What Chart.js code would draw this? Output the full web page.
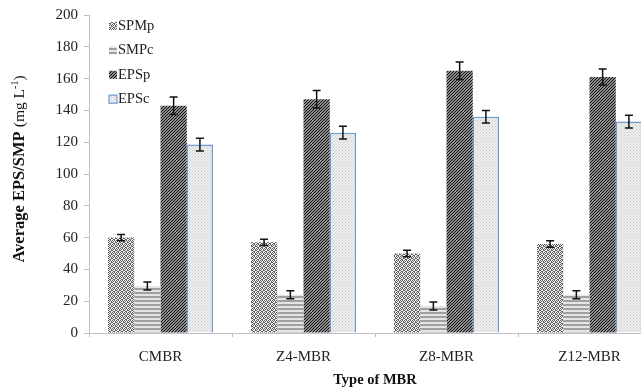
<!DOCTYPE html>
<html>
<head>
<meta charset="utf-8">
<script src="https://cdn.jsdelivr.net/npm/chart.js@4.4.0/dist/chart.umd.min.js"></script>
<style>
  html, body { margin: 0; padding: 0; background: #fff; overflow: hidden; }
  #wrap { width: 670px; height: 392px; }
</style>
</head>
<body>
<div id="wrap"><canvas id="mbrChart" width="670" height="392"></canvas></div>
<script>
const categories = ['CMBR', 'Z4-MBR', 'Z8-MBR', 'Z12-MBR'];
const seriesNames = ['SPMp', 'SMPc', 'EPSp', 'EPSc'];
const spmp = [60, 57, 50, 56];
const smpc = [29.5, 24, 17, 24];
const epsp = [143, 147, 165, 161];
const epsc = [118.5, 126, 136, 133];
const spmpErr = [2, 2, 2, 2];
const smpcErr = [2.5, 2.5, 2.5, 2.5];
const epspErr = [5.5, 5.5, 5.5, 5];
const epscErr = [4, 4, 4, 4];
const yTicks = [0, 20, 40, 60, 80, 100, 120, 140, 160, 180, 200];

function makeTile(w, h, draw) {
  const c = document.createElement('canvas');
  c.width = w; c.height = h;
  const g = c.getContext('2d');
  draw(g, w, h);
  return c.getContext('2d').createPattern(c, 'repeat');
}

// zigzag (wave) pattern, pixel based
const zigzag = makeTile(4, 4, (g, w, h) => {
  g.fillStyle = '#f4f4f4'; g.fillRect(0, 0, w, h);
  g.fillStyle = '#5c5c5c';
  [[0, 0], [1, 1], [2, 0], [3, 1], [0, 2], [2, 3], [1, 3], [3, 2]].forEach(p => g.fillRect(p[0], p[1], 1, 1));
});
// horizontal stripes
const stripes = makeTile(4, 4, (g, w, h) => {
  g.fillStyle = '#e4e4e4'; g.fillRect(0, 0, w, h);
  g.fillStyle = '#a0a0a0'; g.fillRect(0, 0, w, 2);
});
// fine diagonal hatch
const hatch = makeTile(3, 3, (g, w, h) => {
  g.fillStyle = '#8c8c8c'; g.fillRect(0, 0, w, h);
  g.fillStyle = '#101010';
  for (let i = 0; i < 3; i++) g.fillRect(2 - i, i, 1, 1);
});
// light dots
const dots = makeTile(3, 3, (g, w, h) => {
  g.fillStyle = '#eeeeee'; g.fillRect(0, 0, w, h);
  g.fillStyle = '#cacaca'; g.fillRect(0, 0, 1, 1); g.fillRect(1.5, 1.5, 1, 1);
});

const fills = [zigzag, stripes, hatch, dots];
const errs = [spmpErr, smpcErr, epspErr, epscErr];
const values = [spmp, smpc, epsp, epsc];

const errorBars = {
  id: 'errorBars',
  afterDatasetsDraw(chart) {
    const ctx = chart.ctx;
    const y = chart.scales.y;
    ctx.save();
    ctx.strokeStyle = '#111';
    ctx.lineWidth = 1.5;
    chart.data.datasets.forEach((ds, i) => {
      const meta = chart.getDatasetMeta(i);
      meta.data.forEach((bar, j) => {
        const v = ds.data[j], e = errs[i][j];
        const top = y.getPixelForValue(v + e);
        const bot = y.getPixelForValue(v - e);
        ctx.beginPath();
        ctx.moveTo(bar.x, top); ctx.lineTo(bar.x, bot);
        ctx.moveTo(bar.x - 4, top); ctx.lineTo(bar.x + 4, top);
        ctx.moveTo(bar.x - 4, bot); ctx.lineTo(bar.x + 4, bot);
        ctx.stroke();
      });
    });
    ctx.restore();
  }
};

const customText = {
  id: 'customText',
  afterDraw(chart) {
    const ctx = chart.ctx;
    const area = chart.chartArea;
    ctx.save();
    // legend inside plot
    ctx.font = '14.5px "Liberation Serif"';
    ctx.textBaseline = 'middle';
    seriesNames.forEach((name, i) => {
      const cy = 26 + i * 24.4;
      ctx.fillStyle = fills[i];
      ctx.fillRect(area.left + 20, cy - 4, 8, 8);
      if (i === 3) {
        ctx.strokeStyle = '#6f9bd1'; ctx.lineWidth = 1.2;
        ctx.strokeRect(area.left + 20, cy - 4, 8, 8);
      }
      ctx.fillStyle = '#222';
      ctx.fillText(name, area.left + 29, cy);
    });
    // y-axis title: bold part + normal part with superscript
    ctx.translate(20, 169);
    ctx.rotate(-Math.PI / 2);
    const bold = 'bold 16.5px "Liberation Serif"';
    const norm = '15.5px "Liberation Serif"';
    const sup = '10px "Liberation Serif"';
    const parts = [['Average EPS/SMP ', bold, 0], ['(mg L', norm, 0], ['-1', sup, -5], [')', norm, 0]];
    let total = 0;
    parts.forEach(p => { ctx.font = p[1]; total += ctx.measureText(p[0]).width; });
    let x = -total / 2;
    ctx.fillStyle = '#111';
    parts.forEach(p => {
      ctx.font = p[1];
      ctx.fillText(p[0], x, p[2]);
      x += ctx.measureText(p[0]).width;
    });
    ctx.restore();
  }
};

new Chart(document.getElementById('mbrChart').getContext('2d'), {
  type: 'bar',
  data: {
    labels: categories,
    datasets: seriesNames.map((name, i) => ({
      label: name,
      data: values[i],
      backgroundColor: fills[i],
      borderColor: i === 3 ? '#6f9bd1' : 'rgba(0,0,0,0)',
      borderWidth: i === 3 ? { left: 1.5, right: 1.5, top: 1.5, bottom: 0 } : 0,
      borderSkipped: i === 3 ? 'bottom' : 'start',
      categoryPercentage: 0.735,
      barPercentage: 1.0
    }))
  },
  options: {
    responsive: false,
    animation: false,
    devicePixelRatio: 1,
    layout: { padding: { top: 15, right: 9, left: 0, bottom: 0 } },
    plugins: { legend: { display: false }, tooltip: { enabled: false } },
    scales: {
      x: {
        afterFit: s => { s.height = 59; },
        grid: { display: true, drawOnChartArea: false, offset: true, tickLength: 4, color: '#bfbfbf' },
        border: { color: '#bfbfbf' },
        ticks: { font: { family: 'Liberation Serif', size: 15 }, color: '#222', padding: 11 },
        title: { display: true, text: 'Type of MBR', font: { family: 'Liberation Serif', size: 14.5, weight: 'bold' }, color: '#111', padding: { top: 4, bottom: 3 } }
      },
      y: {
        min: 0, max: 200,
        afterFit: s => { s.width = 89; },
        afterBuildTicks: s => { s.ticks = yTicks.map(v => ({ value: v })); },
        grid: { drawOnChartArea: false, tickLength: 5, color: '#bfbfbf' },
        border: { color: '#bfbfbf' },
        ticks: { font: { family: 'Liberation Serif', size: 15 }, color: '#222', padding: 6 }
      }
    }
  },
  plugins: [errorBars, customText]
});
</script>
</body>
</html>
